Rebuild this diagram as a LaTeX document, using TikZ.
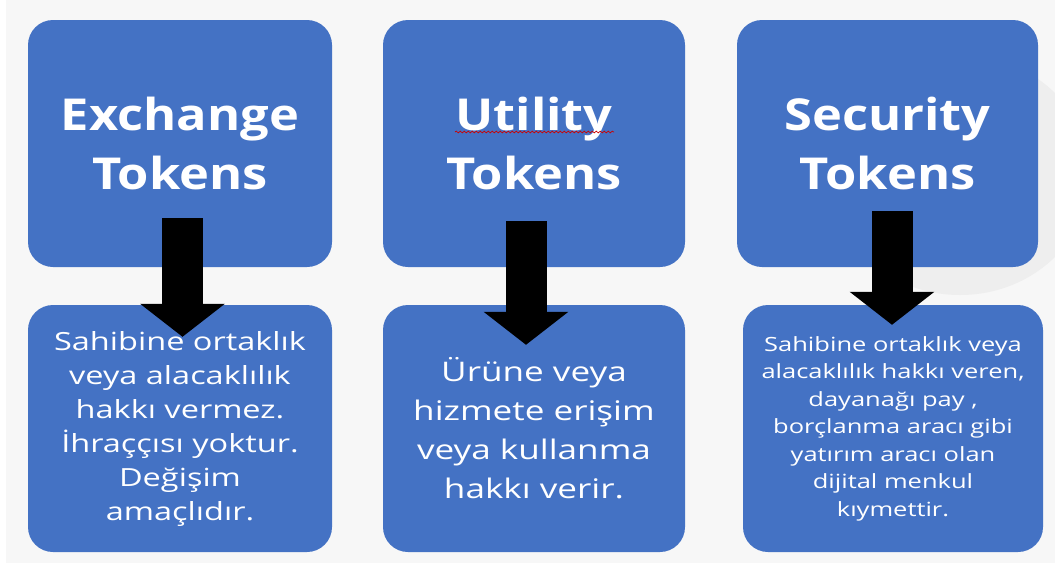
\documentclass[tikz,border=0pt]{standalone}
\usepackage{fontspec}
\setmainfont{Open Sans}
\newfontfamily\headfont{Open Sans}[FakeStretch=1.15]
\newfontfamily\bodyfont{Open Sans}[FakeStretch=1.3]
\usepackage{xcolor}
\usetikzlibrary{arrows.meta,decorations.pathmorphing}

\definecolor{tokblue}{HTML}{4472C4}
\definecolor{pagebg}{HTML}{F7F7F7}
\definecolor{shadebg}{HTML}{EEEEEE}

\begin{document}
\begin{tikzpicture}[x=1pt,y=-1pt,
        tokbox/.style={fill=tokblue, rounded corners=25pt, minimum height=247pt,
            inner sep=0pt, align=center, text=white},
        tokhead/.style={tokbox, font=\headfont\bfseries\fontsize{44}{59}\selectfont},
        tokarrow/.style={line width=41pt, black,
            -{Triangle[width=83pt, length=33pt]}}]
        % Page
        \useasboundingbox (0,0) rectangle (1055,573);
        \fill[white] (0,0) rectangle (1055,573);
        \fill[pagebg] (6,0) rectangle (1055,563);
        \fill[shadebg] (960,175) ellipse [x radius=130, y radius=120];

        % Token types
        \node[tokhead, minimum width=304pt] (ex) at (180,143.5) {Exchange\\Tokens};
        \node[tokhead, minimum width=302pt] (ut) at (534,143.5) {Utility\\Tokens};
        \node[tokhead, minimum width=301pt] (se) at (887.5,143.5) {Security\\Tokens};

        % Descriptions
        \node[tokbox, minimum width=304pt, font=\bodyfont\fontsize{25}{34}\selectfont] (exd) at (180,428.5)
            {Sahibine ortaklık\\veya alacaklılık\\hakkı vermez.\\İhraççısı yoktur.\\Değişim\\amaçlıdır.};
        \node[tokbox, minimum width=302pt, font=\bodyfont\fontsize{27}{39}\selectfont] (utd) at (534,428.5)
            {Ürüne veya\\hizmete erişim\\veya kullanma\\hakkı verir.};
        \node[tokbox, minimum width=300pt, font=\bodyfont\fontsize{19.6}{27.5}\selectfont] (sed) at (893,428.5)
            {Sahibine ortaklık veya\\alacaklılık hakkı veren,\\dayanağı pay ,\\borçlanma aracı gibi\\yatırım aracı olan\\dijital menkul\\kıymettir.};

        % Spelling mark under Utility
        \draw[red!80!black, line width=0.7pt, decorate,
            decoration={snake, amplitude=0.9pt, segment length=4pt}]
            ([xshift=-79pt,yshift=11.5pt]ut.center) -- ([xshift=80pt,yshift=11.5pt]ut.center);

        % Arrows
        \draw[tokarrow] ([xshift=2.5pt,yshift=49pt]ex.south) -- ([xshift=2.5pt,yshift=-32pt]exd.north);
        \draw[tokarrow] ([xshift=-8pt,yshift=46pt]ut.south) -- ([xshift=-8pt,yshift=-40pt]utd.north);
        \draw[tokarrow] ([xshift=4.5pt,yshift=56pt]se.south) -- ([xshift=-1pt,yshift=-20pt]sed.north);
    \end{tikzpicture}
\end{document}
